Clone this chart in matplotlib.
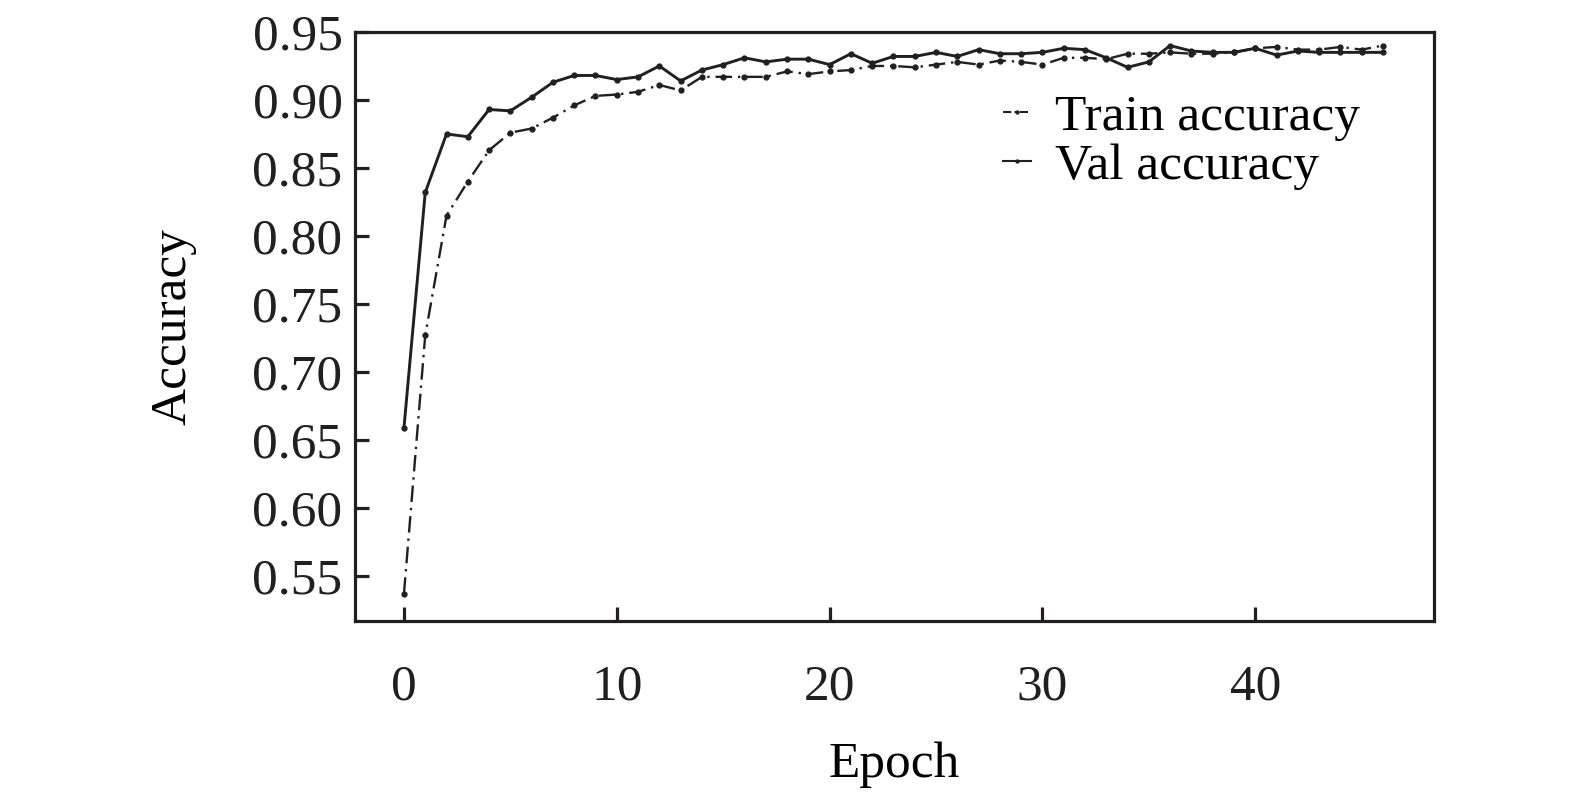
import matplotlib.pyplot as plt

plt.rcParams['font.family'] = 'Liberation Serif'

epochs = list(range(47))

train_acc = [0.537, 0.727, 0.815, 0.840, 0.863, 0.876, 0.879, 0.887, 0.896, 0.903,
             0.904, 0.906, 0.911, 0.907, 0.917, 0.917, 0.917, 0.917, 0.921, 0.919,
             0.921, 0.922, 0.925, 0.925, 0.924, 0.926, 0.928, 0.926, 0.929, 0.928,
             0.926, 0.931, 0.931, 0.930, 0.934, 0.934, 0.935, 0.934, 0.934, 0.935,
             0.938, 0.939, 0.937, 0.937, 0.939, 0.937, 0.940]

val_acc = [0.659, 0.832, 0.875, 0.873, 0.893, 0.892, 0.902, 0.913, 0.918, 0.918,
           0.915, 0.917, 0.925, 0.914, 0.922, 0.926, 0.931, 0.928, 0.930, 0.930,
           0.926, 0.934, 0.927, 0.932, 0.932, 0.935, 0.932, 0.937, 0.934, 0.934,
           0.935, 0.938, 0.937, 0.931, 0.924, 0.928, 0.940, 0.936, 0.935, 0.935,
           0.938, 0.933, 0.936, 0.935, 0.935, 0.935, 0.935]

yticks = [0.55, 0.60, 0.65, 0.70, 0.75, 0.80, 0.85, 0.90, 0.95]
xticks = [0, 10, 20, 30, 40]

fig = plt.figure(figsize=(15.75, 7.99), dpi=100)
ax = fig.add_axes([0.2254, 0.2228, 0.6851, 0.7372])

ax.plot(epochs, train_acc, color='#231f20', lw=1.7, linestyle=(0, (7, 2.5, 1, 2.5)),
        marker='o', markersize=3.5, label='Train accuracy')
ax.plot(epochs, val_acc, color='#231f20', lw=2.1, linestyle='-',
        marker='o', markersize=3.5, label='Val accuracy')

ax.set_xlim(-2.3, 48.4)
ax.set_ylim(0.517, 0.95)
ax.set_xticks(xticks)
ax.set_yticks(yticks)
ax.set_yticklabels(['%.2f' % v for v in yticks])

ax.tick_params(direction='in', length=10, width=2.3, labelsize=37, pad=9, colors='#231f20')
ax.tick_params(axis='x', pad=31)
for s in ax.spines.values():
    s.set_linewidth(2.3)
    s.set_color('#231f20')

ax.set_xlabel('Epoch', fontsize=37, labelpad=22)
ax.set_ylabel('Accuracy', fontsize=37, labelpad=40)

leg = ax.legend(loc='upper right', bbox_to_anchor=(0.95, 0.93), frameon=False, fontsize=37,
                handlelength=0.55, handletextpad=0.45, labelspacing=0.05, borderaxespad=0,
                markerscale=0.6)
leg_lines = leg.get_lines()
leg_lines[0].set_linestyle((0, (4, 1.5, 1, 1.5)))
leg_lines[1].set_linestyle('-')
for h in leg_lines:
    h.set_linewidth(1.5)

fig.savefig('out.png', dpi=100)
